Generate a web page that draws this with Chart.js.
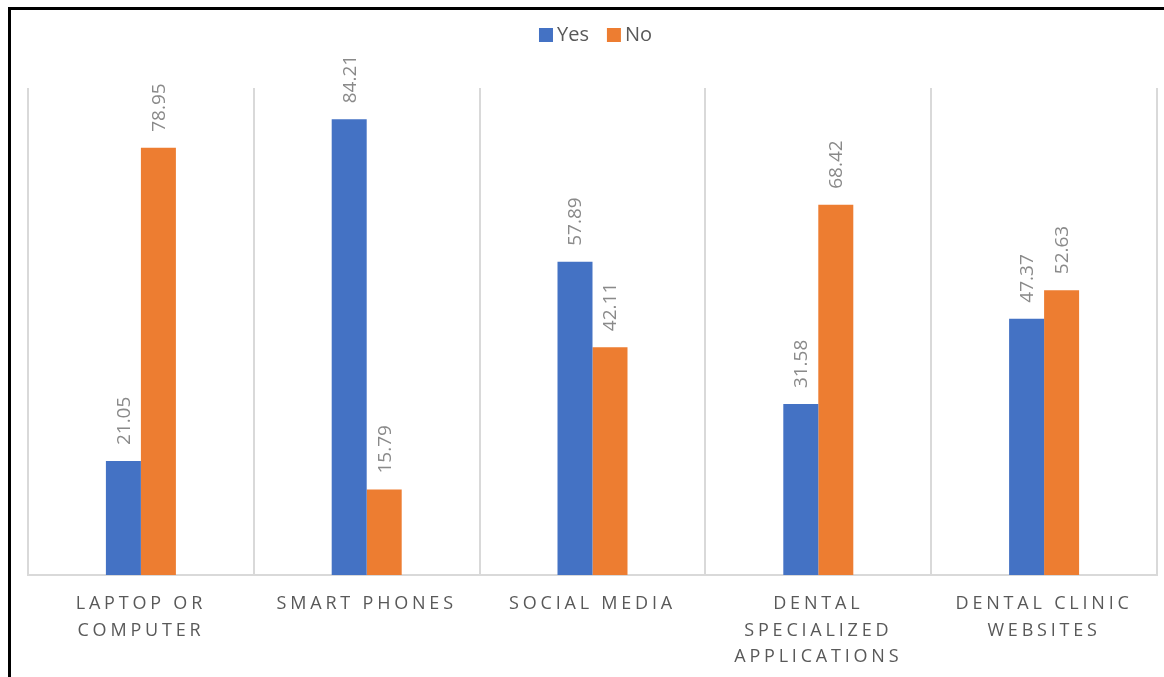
<!DOCTYPE html>
<html>
<head>
<meta charset="utf-8">
<script src="https://cdn.jsdelivr.net/npm/chart.js@4/dist/chart.umd.min.js"></script>
<style>
  html, body { margin: 0; padding: 0; background: #ffffff; }
  #wrap { position: relative; width: 1164px; height: 677px; }
</style>
</head>
<body>
<div id="wrap"><canvas id="c" width="1164" height="677"></canvas></div>
<script>
// Survey categories (multi-line labels) and the Yes / No percentages
const categories = [
  ["LAPTOP OR", "COMPUTER"],
  ["SMART PHONES"],
  ["SOCIAL MEDIA"],
  ["DENTAL", "SPECIALIZED", "APPLICATIONS"],
  ["DENTAL CLINIC", "WEBSITES"]
];
const yesValues = [21.05, 84.21, 57.89, 31.58, 47.37];
const noValues  = [78.95, 15.79, 42.11, 68.42, 52.63];
const seriesNames = ["Yes", "No"];
const seriesColors = ["#4472C4", "#ED7D31"];

const FONT = "'Open Sans', 'Noto Sans', sans-serif";

// Frame, legend, rotated value labels and spaced category labels
const decorPlugin = {
  id: 'decor',
  beforeDraw(chart) {
    const ctx = chart.ctx;
    ctx.save();
    ctx.fillStyle = '#ffffff';
    ctx.fillRect(0, 0, chart.width, chart.height);
    ctx.restore();
  },
  afterDraw(chart) {
    const ctx = chart.ctx;
    ctx.save();
    // outer frame (left and top edges)
    ctx.fillStyle = '#000000';
    ctx.fillRect(8, 7, 3, chart.height - 7);
    ctx.fillRect(8, 7, chart.width - 8, 3);

    // legend
    ctx.font = "20px " + FONT;
    ctx.textBaseline = 'middle';
    ctx.textAlign = 'left';
    const boxSize = 14, gapBox = 4, gapItem = 18;
    const widths = seriesNames.map(n => boxSize + gapBox + ctx.measureText(n).width);
    const total = widths.reduce((a, b) => a + b, 0) + gapItem * (widths.length - 1);
    let lx = (chart.chartArea.left + chart.chartArea.right) / 2 - total / 2 + 3;
    const ly = 35;
    seriesNames.forEach((n, i) => {
      ctx.fillStyle = seriesColors[i];
      ctx.fillRect(lx, ly - 7, boxSize, boxSize);
      ctx.fillStyle = '#595959';
      ctx.fillText(n, lx + boxSize + gapBox, ly);
      lx += widths[i] + gapItem;
    });

    // value labels, rotated, above each bar
    ctx.font = "19px " + FONT;
    ctx.fillStyle = '#8a8a8a';
    chart.data.datasets.forEach((ds, di) => {
      const meta = chart.getDatasetMeta(di);
      meta.data.forEach((bar, i) => {
        ctx.save();
        ctx.translate(bar.x, bar.y - 16);
        ctx.rotate(-Math.PI / 2);
        ctx.textAlign = 'left';
        ctx.textBaseline = 'middle';
        ctx.fillText(ds.data[i].toFixed(2), 0, 1);
        ctx.restore();
      });
    });

    // category labels with letter spacing
    const xScale = chart.scales.x;
    ctx.font = "18px " + FONT;
    ctx.fillStyle = '#595959';
    ctx.textAlign = 'center';
    ctx.textBaseline = 'middle';
    const spacing = 3.8;
    if ('letterSpacing' in ctx) ctx.letterSpacing = spacing + 'px';
    categories.forEach((lines, i) => {
      const x = xScale.getPixelForValue(i);
      lines.forEach((t, li) => {
        ctx.fillText(t, x, 604 + li * 26.5);
      });
    });
    ctx.restore();
  }
};

new Chart(document.getElementById('c'), {
  type: 'bar',
  data: {
    labels: categories.map(l => l.join(' ')),
    datasets: [
      { label: seriesNames[0], data: yesValues, backgroundColor: seriesColors[0] },
      { label: seriesNames[1], data: noValues,  backgroundColor: seriesColors[1] }
    ]
  },
  options: {
    responsive: false,
    animation: false,
    devicePixelRatio: 1,
    layout: { padding: { left: 28, right: 7, top: 88, bottom: 102 } },
    datasets: { bar: { categoryPercentage: 0.31, barPercentage: 1.0 } },
    plugins: {
      legend: { display: false },
      tooltip: { enabled: false }
    },
    scales: {
      x: {
        offset: true,
        grid: { display: true, offset: true, color: '#d9d9d9', lineWidth: 2, drawTicks: false },
        border: { display: true, color: '#d9d9d9', width: 2 },
        ticks: { display: false }
      },
      y: {
        display: false,
        min: 0,
        max: 90
      }
    }
  },
  plugins: [decorPlugin]
});
</script>
</body>
</html>
